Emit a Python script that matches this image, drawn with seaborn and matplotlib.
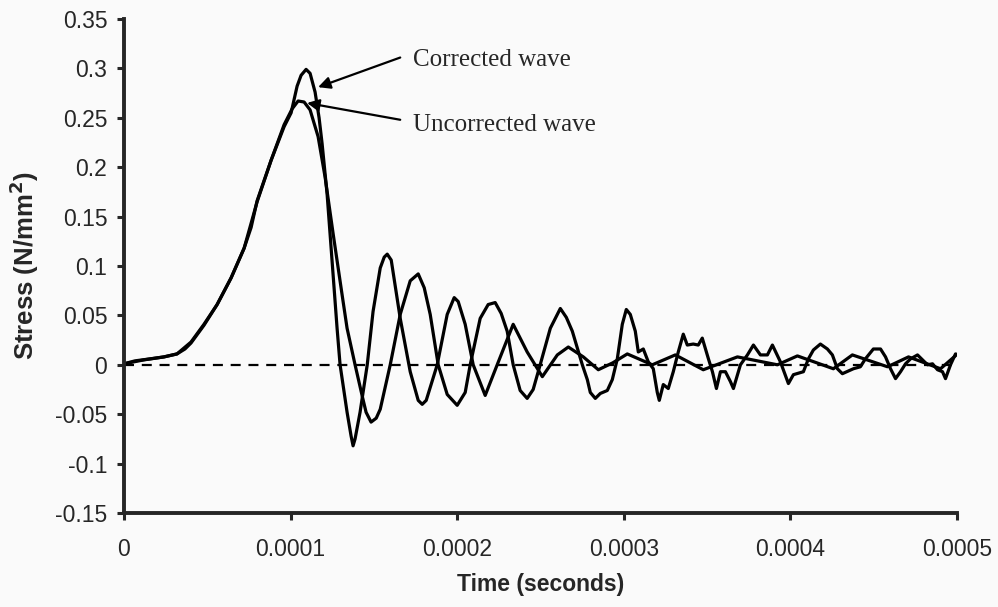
import numpy as np
import pandas as pd
import matplotlib
matplotlib.use("Agg")
import matplotlib.pyplot as plt
import seaborn as sns

# --- data (time in microseconds, stress in N/mm^2) ---
corrected_t_us = [0, 12.0, 24.0, 31.8, 40.2, 48.0, 55.9, 64.3, 72.1, 76.3, 79.9, 88.3, 96.1,
                  100.3, 103.9, 106.3, 109.3, 111.7, 114.7, 117.1, 118.9, 121.9, 124.9, 127.9,
                  129.7, 133.9, 136.3, 137.5, 138.7, 141.7, 146.0, 149.5, 153.8, 156.2, 158.0,
                  160.4, 165.8, 171.8, 176.6, 179.0, 181.4, 188.0, 194.0, 198.2, 200.6, 204.8,
                  209.6, 216.8, 224.0, 233.6, 242.0, 251.1, 260.1, 266.7, 275.7, 284.7, 293.4,
                  302.1, 317.1, 330.9, 347.7, 368.2, 392.2, 404.2, 425.8, 437.2, 458.3, 470.9,
                  490.1, 500.3]
corrected_stress = [0.001, 0.005, 0.008, 0.011, 0.023, 0.041, 0.061, 0.088, 0.118, 0.139, 0.166,
                    0.207, 0.241, 0.255, 0.282, 0.293, 0.299, 0.295, 0.276, 0.250, 0.224, 0.173,
                    0.105, 0.037, 0.0, -0.048, -0.072, -0.082, -0.075, -0.048, 0.0, 0.054, 0.098,
                    0.109, 0.112, 0.106, 0.047, -0.007, -0.036, -0.040, -0.036, 0.0, 0.051, 0.068,
                    0.064, 0.041, 0.0, -0.031, 0.0, 0.041, 0.013, -0.012, 0.010, 0.018, 0.008,
                    -0.005, 0.002, 0.011, 0.0, 0.010, -0.005, 0.008, 0.0, 0.009, -0.004, 0.010,
                    -0.002, 0.008, -0.004, 0.011]

uncorrected_t_us = [0, 6.6, 15.6, 24.0, 31.8, 36.6, 40.2, 48.0, 55.9, 64.3, 72.1, 79.9, 88.3, 96.1,
                    100.9, 104.5, 108.1, 111.7, 116.5, 120.7, 125.5, 130.9, 133.9, 138.7, 142.9,
                    145.3, 148.3, 151.4, 153.8, 159.8, 165.8, 171.8, 176.6, 180.2, 183.8, 188.6,
                    194.0, 200.0, 204.8, 207.8, 213.8, 218.6, 222.8, 226.4, 230.0, 233.6, 237.8,
                    242.0, 245.6, 249.8, 255.9, 261.9, 265.5, 269.1, 275.1, 278.1, 279.9, 282.9,
                    285.9, 290.1, 293.1, 296.1, 299.1, 301.5, 303.9, 306.9, 308.7, 311.7, 314.7,
                    317.7, 320.1, 321.3, 323.7, 326.7, 329.7, 332.7, 335.7, 338.1, 341.7, 344.7,
                    347.1, 350.8, 353.2, 355.6, 358.0, 361.0, 364.0, 365.8, 370.0, 374.2, 377.8,
                    382.0, 386.2, 389.2, 394.0, 398.8, 401.8, 407.8, 410.8, 413.8, 418.0, 422.2,
                    425.2, 428.2, 431.2, 437.8, 442.0, 445.0, 449.8, 454.1, 457.1, 460.1, 463.1,
                    466.1, 469.1, 472.1, 476.3, 479.3, 482.3, 485.3, 488.3, 491.3, 493.1, 496.1,
                    499.1]
uncorrected_stress = [0.001, 0.004, 0.006, 0.008, 0.011, 0.016, 0.022, 0.040, 0.061, 0.088, 0.118,
                      0.165, 0.207, 0.243, 0.259, 0.267, 0.266, 0.258, 0.231, 0.190, 0.133, 0.071,
                      0.037, 0.0, -0.031, -0.048, -0.058, -0.054, -0.045, 0.0, 0.051, 0.085, 0.092,
                      0.078, 0.051, 0.0, -0.030, -0.041, -0.028, 0.0, 0.047, 0.061, 0.063, 0.052,
                      0.034, 0.0, -0.026, -0.034, -0.025, 0.0, 0.037, 0.057, 0.048, 0.034, 0.0,
                      -0.015, -0.028, -0.034, -0.029, -0.026, -0.015, 0.006, 0.041, 0.056, 0.051,
                      0.034, 0.013, 0.016, 0.003, -0.004, -0.028, -0.036, -0.020, -0.024, -0.007,
                      0.013, 0.031, 0.020, 0.021, 0.020, 0.027, 0.006, -0.007, -0.024, -0.007,
                      -0.007, -0.017, -0.024, 0.0, 0.010, 0.020, 0.010, 0.010, 0.020, 0.003,
                      -0.019, -0.010, -0.007, 0.006, 0.015, 0.021, 0.016, 0.010, -0.004, -0.009,
                      -0.004, -0.002, 0.006, 0.016, 0.016, 0.008, -0.004, -0.014, -0.007, 0.001,
                      0.006, 0.010, 0.005, 0.0, 0.001, -0.005, -0.007, -0.014, 0.0, 0.011]

x_ticks = [0, 0.0001, 0.0002, 0.0003, 0.0004, 0.0005]
x_tick_labels = ["0", "0.0001", "0.0002", "0.0003", "0.0004", "0.0005"]
y_ticks = [-0.15, -0.1, -0.05, 0, 0.05, 0.1, 0.15, 0.2, 0.25, 0.3, 0.35]
y_tick_labels = ["-0.15", "-0.1", "-0.05", "0", "0.05", "0.1", "0.15", "0.2", "0.25", "0.3", "0.35"]

corrected_df = pd.DataFrame({"Time": np.array(corrected_t_us) * 1e-6, "Stress": corrected_stress})
uncorrected_df = pd.DataFrame({"Time": np.array(uncorrected_t_us) * 1e-6, "Stress": uncorrected_stress})

# --- plotting ---
sns.set_style("ticks")
plt.rcParams['font.family'] = ['Liberation Sans', 'DejaVu Sans']

fig = plt.figure(figsize=(9.98, 6.07), dpi=100)
fig.patch.set_facecolor("#fafafa")
ax = fig.add_axes([124 / 998, 1 - 513 / 607, (957 - 124) / 998, (513 - 19) / 607])
ax.set_facecolor("#fafafa")

ax.axhline(0, color="black", lw=1.6, ls=(0, (4.5, 3.5)), zorder=1)

sns.lineplot(data=uncorrected_df, x="Time", y="Stress", color="black", lw=2.3,
             sort=False, estimator=None, ax=ax)
sns.lineplot(data=corrected_df, x="Time", y="Stress", color="black", lw=2.3,
             sort=False, estimator=None, ax=ax)

ax.set_xlim(0, 0.0005)
ax.set_ylim(-0.15, 0.35)
ax.set_xticks(x_ticks)
ax.set_xticklabels(x_tick_labels)
ax.set_yticks(y_ticks)
ax.set_yticklabels(y_tick_labels)
ax.tick_params(axis="both", labelsize=16.5, width=2.2, length=5, direction="out")
ax.tick_params(axis="y", pad=7)
ax.tick_params(axis="x", pad=13)

for side in ["top", "right"]:
    ax.spines[side].set_visible(False)
for side in ["left", "bottom"]:
    ax.spines[side].set_linewidth(2.8)

ax.set_xlabel("Time (seconds)", fontsize=16.5, weight="bold", labelpad=9)
ax.set_ylabel("Stress (N/mm$^\\mathbf{2}$)", fontsize=18.5, weight="bold", labelpad=10)

arrow = dict(arrowstyle="-|>", color="black", lw=1.6, mutation_scale=18, shrinkA=0, shrinkB=0)
ax.annotate("", xy=(116.5e-6, 0.281), xytext=(165.8e-6, 0.311), arrowprops=arrow)
ax.annotate("", xy=(109.9e-6, 0.265), xytext=(165.8e-6, 0.248), arrowprops=arrow)
ax.text(173.6e-6, 0.309, "Corrected wave", fontsize=18, family=["Liberation Serif", "DejaVu Serif"],
        va="center", ha="left")
ax.text(173.6e-6, 0.243, "Uncorrected wave", fontsize=18, family=["Liberation Serif", "DejaVu Serif"],
        va="center", ha="left")

plt.savefig("out.png", dpi=100, facecolor=fig.get_facecolor())
